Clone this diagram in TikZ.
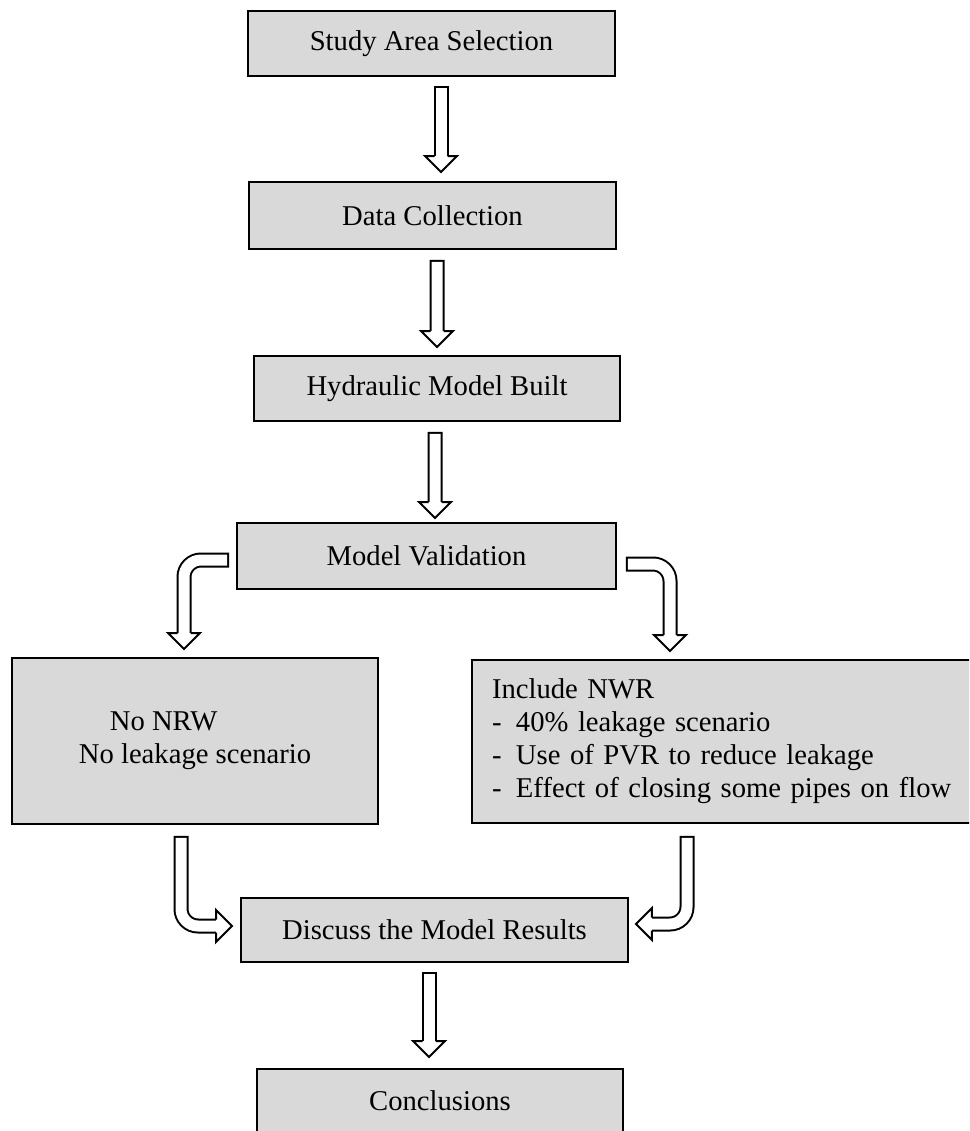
\documentclass[tikz,border=0pt]{standalone}
\usepackage{fontspec}
\setmainfont{Liberation Serif}
\usetikzlibrary{calc}
\definecolor{boxgray}{RGB}{217,217,217}

\begin{document}
\begin{tikzpicture}[
    x=0.02cm, y=-0.02cm,
    font=\fontsize{16.3pt}{18.8pt}\selectfont,
    stage/.style={
      draw, line width=0.055cm, fill=boxgray, align=center,
      inner sep=0pt, outer sep=0pt
    },
    shaft/.style={
      draw, line width=0.04cm, double=white, double distance=0.22cm,
      line cap=rect, rounded corners=0.34cm
    },
    arrline/.style={draw, line width=0.04cm, fill=white},
    pics/arrhead/.style={code={
      \filldraw[arrline] (-6.5,-16) -- (-16,-16) -- (0,0) -- (16,-16) -- (6.5,-16);
    }}
  ]
    \useasboundingbox (0,0) rectangle (969,1131);
    \clip (0,0) rectangle (969,1131);

    % --- Cajas principales ---
    \node[stage, minimum width=7.34cm, minimum height=1.30cm]
      (study) at (431.5,43.5) {Study Area Selection};
    \node[stage, minimum width=7.34cm, minimum height=1.34cm]
      (data) at (432.5,215.5) {Data Collection};
    \node[stage, minimum width=7.32cm, minimum height=1.30cm]
      (hydro) at (437,388.5) {Hydraulic Model Built};
    \node[stage, minimum width=7.58cm, minimum height=1.32cm]
      (valid) at (426.5,556) {Model Validation};

    % --- Escenarios ---
    \node[stage, align=left, minimum width=7.32cm, minimum height=3.32cm]
      (nonrw) at (195,741) {\hspace*{0.62cm}No NRW\\No leakage scenario};
    \node[stage, anchor=west, align=left, text width=10.4cm, inner xsep=0.4cm,
      minimum width=11.2cm, minimum height=3.26cm]
      (nwr) at (472,741.5) {Include NWR\\
        \makebox[0.48cm][l]{-}40\% leakage scenario\\
        \makebox[0.48cm][l]{-}Use of PVR to reduce leakage\\
        \makebox[0.48cm][l]{-}Effect of closing some pipes on flow};

    % --- Resultados ---
    \node[stage, minimum width=7.74cm, minimum height=1.28cm]
      (discuss) at (434.5,930) {Discuss the Model Results};
    \node[stage, minimum width=7.32cm, minimum height=1.28cm]
      (concl) at (440,1101) {Conclusions};

    % --- Puntos de las flechas ---
    \coordinate (a1s) at ($(study.south)+(9.5,17.5)$);
    \coordinate (a1t) at ($(data.north)+(8.5,-10)$);
    \coordinate (a2s) at ($(data.south)+(4.5,18.5)$);
    \coordinate (a2t) at ($(hydro.north)+(0,-9)$);
    \coordinate (a3s) at ($(hydro.south)+(-2,18.5)$);
    \coordinate (a3t) at ($(valid.north)+(8.5,-5)$);
    \coordinate (l1s) at ($(valid.west)+(-15.5,4)$);
    \coordinate (l1t) at ($(nonrw.north)+(-11,-9)$);
    \coordinate (r1s) at ($(valid.east)+(17.5,8)$);
    \coordinate (r1t) at ($(nwr.north west)+(198,-9)$);
    \coordinate (l2s) at ($(nonrw.south)+(-14,19.5)$);
    \coordinate (l2t) at ($(discuss.west)+(-9,-4)$);
    \coordinate (r2s) at ($(nwr.south west)+(215,20.5)$);
    \coordinate (r2t) at ($(discuss.east)+(8,-6)$);
    \coordinate (a4s) at ($(discuss.south)+(-5.5,17.5)$);
    \coordinate (a4t) at ($(concl.north)+(-11,-12)$);

    % --- Flechas ---
    \draw[shaft] (a1s) -- ($(a1t)+(0,-18)$);
    \pic at (a1t) {arrhead};
    \draw[shaft] (a2s) -- ($(a2t)+(0,-18)$);
    \pic at (a2t) {arrhead};
    \draw[shaft] (a3s) -- ($(a3t)+(0,-18)$);
    \pic at (a3t) {arrhead};
    \draw[shaft] (l1s) -| ($(l1t)+(0,-18)$);
    \pic at (l1t) {arrhead};
    \draw[shaft] (r1s) -| ($(r1t)+(0,-18)$);
    \pic at (r1t) {arrhead};
    \draw[shaft] (l2s) |- ($(l2t)+(-18,0)$);
    \pic[rotate=90] at (l2t) {arrhead};
    \draw[shaft] (r2s) |- ($(r2t)+(18,0)$);
    \pic[rotate=-90] at (r2t) {arrhead};
    \draw[shaft] (a4s) -- ($(a4t)+(0,-18)$);
    \pic at (a4t) {arrhead};
  \end{tikzpicture}
\end{document}
